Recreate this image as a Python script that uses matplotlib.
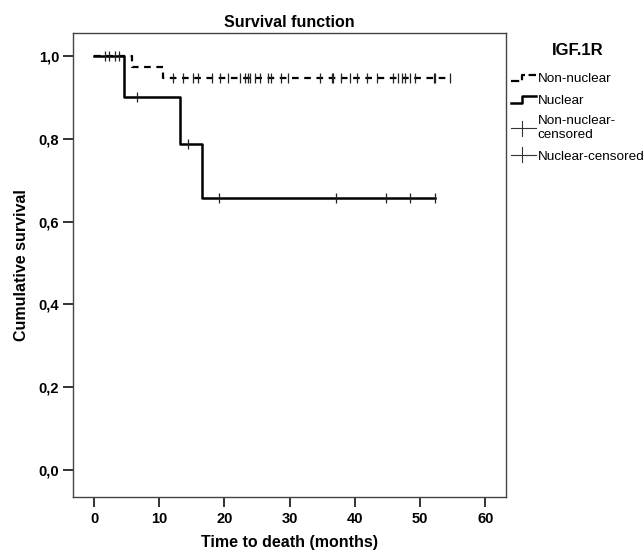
import matplotlib
matplotlib.use("Agg")
import matplotlib.pyplot as plt
from matplotlib.legend_handler import HandlerBase
from matplotlib.lines import Line2D

plt.rcParams["font.family"] = ["Liberation Sans", "DejaVu Sans"]

# Kaplan-Meier steps
nonnuc_times = [0, 5.8, 10.6, 54.7]
nonnuc_surv = [1.0, 0.973, 0.946, 0.946]
nonnuc_censor_t = [1.7, 2.3, 3.2, 3.8,
                   12.1, 13.7, 15.2, 16.0, 18.1, 19.3, 20.6,
                   22.4, 23.2, 23.6, 23.9, 24.7, 25.5, 26.7, 27.2, 28.7, 29.8,
                   34.6, 36.5, 36.7, 37.9, 39.2, 40.3, 41.8, 43.4,
                   45.9, 46.6, 47.2, 47.7, 48.5, 49.3, 52.1, 52.3, 54.6]
nonnuc_censor_s = [1.0] * 4 + [0.946] * 34

nuc_times = [0, 4.65, 13.2, 16.5, 52.3]
nuc_surv = [1.0, 0.9, 0.787, 0.656, 0.656]
nuc_censor_t = [6.6, 14.4, 19.1, 37.1, 44.8, 48.4, 52.3]
nuc_censor_s = [0.9, 0.787, 0.656, 0.656, 0.656, 0.656, 0.656]

x_ticks = [0, 10, 20, 30, 40, 50, 60]
y_ticks = [0.0, 0.2, 0.4, 0.6, 0.8, 1.0]
y_tick_labels = ["0,0", "0,2", "0,4", "0,6", "0,8", "1,0"]
legend_labels = ["Non-nuclear", "Nuclear", "Non-nuclear-\ncensored", "Nuclear-censored"]


class StepHandler(HandlerBase):
    def __init__(self, censored=False):
        super().__init__()
        self.censored = censored

    def create_artists(self, legend, orig, xdescent, ydescent, width, height, fontsize, trans):
        if self.censored:
            ln = Line2D([0, width], [height / 2, height / 2], color="#333333", lw=0.8, transform=trans)
            tk = Line2D([width * 0.45, width * 0.45], [-height * 0.3, height * 1.3],
                        color="#333333", lw=0.8, transform=trans)
            return [ln, tk]
        xs = [0, width * 0.45, width * 0.45, width]
        ys = [height * 0.1, height * 0.1, height * 0.8, height * 0.8]
        ln = Line2D(xs, ys, color="black", lw=orig.get_linewidth(),
                    linestyle=orig.get_linestyle(), transform=trans)
        return [ln]


fig = plt.figure(figsize=(6.44, 5.53), dpi=100)
ax = fig.add_axes([0.1134, 0.1013, 0.6724, 0.839])

l1, = ax.step(nonnuc_times, nonnuc_surv, where="post", color="black", lw=1.6,
              linestyle=(0, (3, 2.5)))
l2, = ax.step(nuc_times, nuc_surv, where="post", color="black", lw=1.8)
ax.plot(nonnuc_censor_t, nonnuc_censor_s, linestyle="none", marker="|",
        markersize=7, mew=0.9, color="#222222")
ax.plot(nuc_censor_t, nuc_censor_s, linestyle="none", marker="|",
        markersize=7, mew=0.9, color="#222222")

ax.set_xlim(-3.22, 63.2)
ax.set_ylim(-0.065, 1.0556)
ax.set_xticks(x_ticks)
ax.set_yticks(y_ticks)
ax.set_yticklabels(y_tick_labels)
for lab in ax.get_xticklabels() + ax.get_yticklabels():
    lab.set_fontweight("bold")
    lab.set_fontsize(10.5)
ax.tick_params(direction="out", length=7, width=1.3, color="#222222", pad=3)
ax.tick_params(axis="x", pad=4)
for sp in ax.spines.values():
    sp.set_color("#444444")
    sp.set_linewidth(1.0)

ax.set_title("Survival function", fontsize=11.5, fontweight="bold", pad=4)
ax.set_xlabel("Time to death (months)", fontsize=11.5, fontweight="bold", labelpad=6)
ax.set_ylabel("Cumulative survival", fontsize=11.5, fontweight="bold", labelpad=7)

c1 = Line2D([], [])
c2 = Line2D([], [])
leg = ax.legend([l1, l2, c1, c2], legend_labels, title="IGF.1R",
                handler_map={l1: StepHandler(), l2: StepHandler(),
                             c1: StepHandler(True), c2: StepHandler(True)},
                loc="upper left", bbox_to_anchor=(0.995, 0.994), frameon=False,
                fontsize=9.7, handlelength=1.9, handletextpad=0.1, labelspacing=0.66,
                borderaxespad=0.1, title_fontproperties={"weight": "bold", "size": 12})
leg._legend_box.align = "center"
leg._legend_box.sep = 11

fig.savefig("out.png", dpi=100)
